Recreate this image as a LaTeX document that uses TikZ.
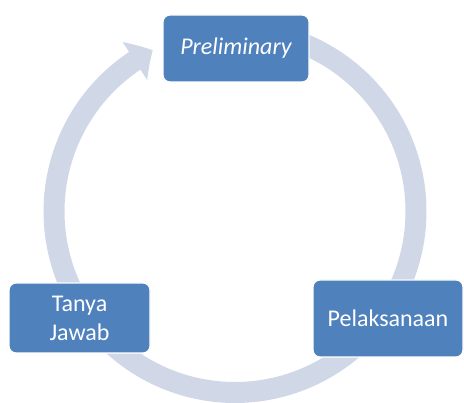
\documentclass[tikz,border=0pt]{standalone}
\usepackage{fontspec}
\setmainfont{Carlito}
\usetikzlibrary{arrows.meta,bending}
\definecolor{boxblue}{RGB}{79,129,189}
\definecolor{ringgray}{RGB}{208,216,232}

\begin{document}
\begin{tikzpicture}[x=1pt,y=1pt,
    ring/.style={draw=ringgray,line width=21pt},
    ringhead/.style={-{Triangle[width=44pt,length=21pt,bend]}},
    stage/.style={draw=white,line width=1.2pt,fill=boxblue,rounded corners=7pt,
      text=white,align=center,inner sep=0pt,font=\fontsize{24}{29}\selectfont}]
                \useasboundingbox (0,0) rectangle (464,403);
                \coordinate (c) at (235,191.5);
                % The ring
                \draw[ring,ringhead] ([shift={(210:181)}]c) arc[start angle=210,end angle=117,radius=181];
                \draw[ring,ringhead] ([shift={(90:181)}]c) arc[start angle=90,end angle=-34,radius=181];
                \draw[ring,ringhead] ([shift={(-34:181)}]c) arc[start angle=-34,end angle=-146,radius=181];
                % The stages
                \node[stage,minimum width=146pt,minimum height=67pt] (prelim) at (236,354.5) {\itshape Preliminary};
                \node[stage,minimum width=150pt,minimum height=77pt] (pelaksanaan) at (388,84.5) {Pelaksanaan};
                \node[stage,minimum width=141pt,minimum height=70pt] (tanya) at (79.5,85) {Tanya\\Jawab};
            \end{tikzpicture}
\end{document}
